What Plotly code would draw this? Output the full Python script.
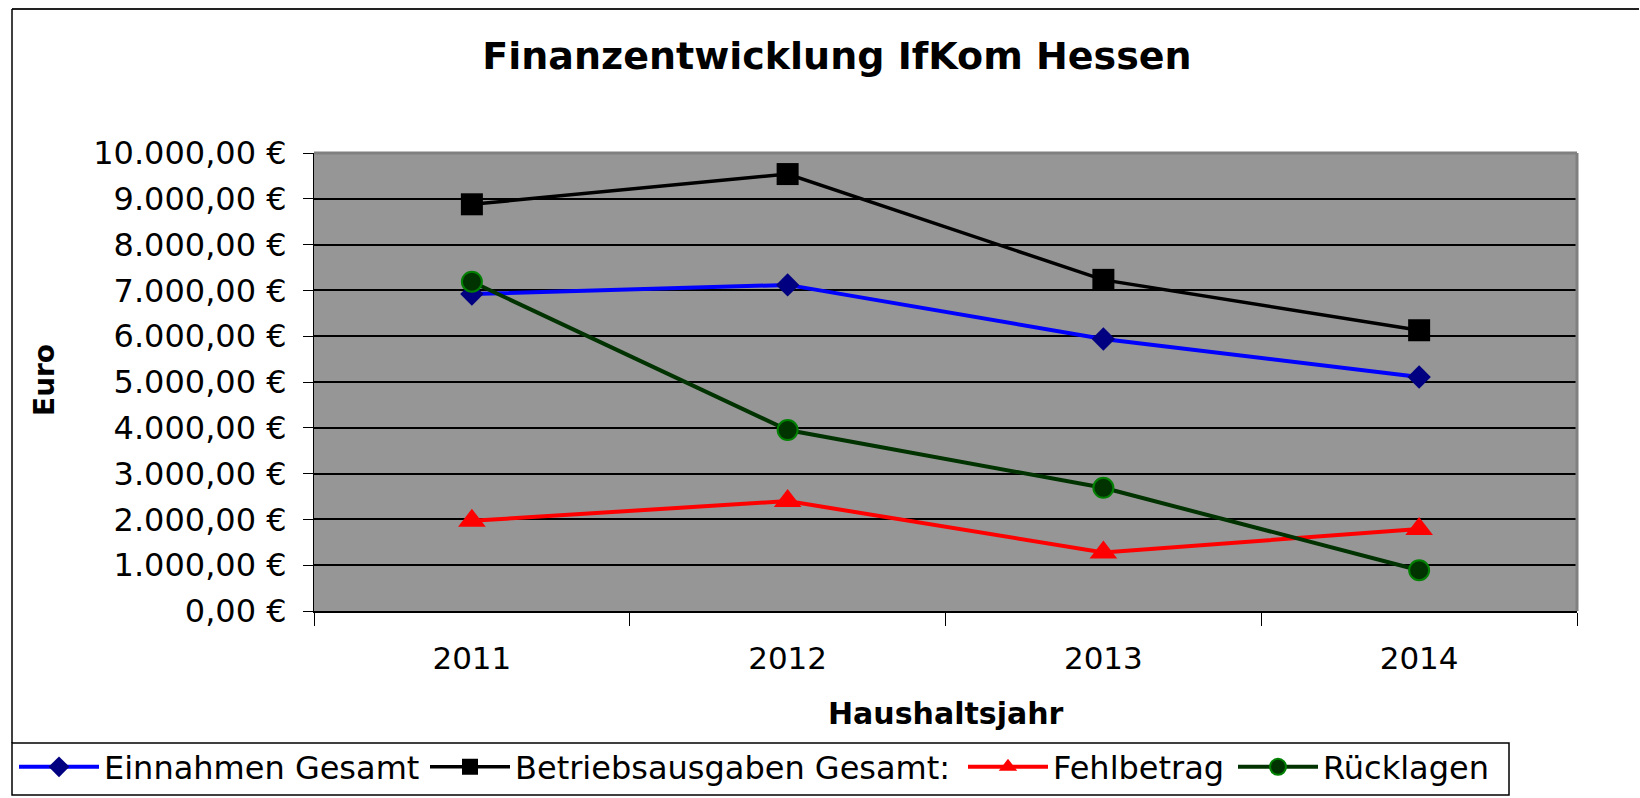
import plotly.graph_objects as go

# ---- data ----
years = ["2011", "2012", "2013", "2014"]
einnahmen = [6920, 7120, 5940, 5110]
betriebsausgaben = [8880, 9540, 7230, 6130]
fehlbetrag = [1970, 2400, 1280, 1790]
ruecklagen = [7190, 3950, 2690, 890]

series_names = ["Einnahmen Gesamt", "Betriebsausgaben Gesamt:", "Fehlbetrag", "Rücklagen"]

# ---- layout geometry (pixels) ----
W, H = 1640, 798
L, R, T, B = 314, 63, 153, 187
PW = W - L - R
PH = H - T - B


def px(x):
    return (x - L) / PW


def py(y):
    return (H - B - y) / PH


FONT = "DejaVu Sans"

fig = go.Figure()

fig.add_trace(go.Scatter(
    x=years, y=einnahmen, name=series_names[0], mode="lines+markers",
    line=dict(color="#0000FF", width=4),
    marker=dict(symbol="diamond", size=18, color="#000080"),
    legend="legend",
))
fig.add_trace(go.Scatter(
    x=years, y=betriebsausgaben, name=series_names[1], mode="lines+markers",
    line=dict(color="#000000", width=3.5),
    marker=dict(symbol="square", size=22, color="#000000"),
    legend="legend2",
))
fig.add_trace(go.Scatter(
    x=years, y=fehlbetrag, name=series_names[2], mode="lines+markers",
    line=dict(color="#FF0000", width=4),
    marker=dict(symbol="triangle-up", size=24, color="#FF0000"),
    legend="legend3",
))
fig.add_trace(go.Scatter(
    x=years, y=ruecklagen, name=series_names[3], mode="lines+markers",
    line=dict(color="#003300", width=4),
    marker=dict(symbol="circle", size=20, color="#003300",
                line=dict(color="#008000", width=2)),
    legend="legend4",
))

leg_common = dict(
    orientation="h", xanchor="left", yanchor="middle",
    y=py(767), bgcolor="rgba(0,0,0,0)", borderwidth=0, itemwidth=80,
    font=dict(family=FONT, size=32, color="black"),
)
leg_x = [14, 425, 963, 1233]

shapes = [
    # outer chart border: top and left edges (the rest lies outside the canvas)
    dict(type="line", xref="paper", yref="paper",
         x0=px(12), x1=px(W - 1), y0=py(9), y1=py(9),
         line=dict(color="#222222", width=2)),
    dict(type="line", xref="paper", yref="paper",
         x0=px(12), x1=px(12), y0=py(9), y1=py(743),
         line=dict(color="black", width=1.5)),
    # legend box
    dict(type="rect", xref="paper", yref="paper",
         x0=px(12), x1=px(1509), y0=py(795), y1=py(743),
         line=dict(color="black", width=1.5), fillcolor="white", layer="below"),
    # plot area border (top and right, grey)
    dict(type="line", xref="paper", yref="paper",
         x0=0, x1=1, y0=1, y1=1, line=dict(color="#808080", width=3)),
    dict(type="line", xref="paper", yref="paper",
         x0=1, x1=1, y0=0, y1=1, line=dict(color="#808080", width=3)),
]

annotations = [
    dict(text="<b>Euro</b>", xref="paper", yref="paper", x=px(44), y=py(380),
         showarrow=False, textangle=-90, xanchor="center", yanchor="middle",
         font=dict(family=FONT, size=28, color="black")),
    dict(text="<b>Haushaltsjahr</b>", xref="paper", yref="paper", x=px(946), y=py(713),
         showarrow=False, xanchor="center", yanchor="middle",
         font=dict(family=FONT, size=30, color="black")),
]

fig.update_layout(
    width=W, height=H,
    margin=dict(l=L, r=R, t=T, b=B, autoexpand=False),
    paper_bgcolor="white",
    plot_bgcolor="#969696",
    separators=",.",
    title=dict(text="<b>Finanzentwicklung IfKom Hessen</b>",
               x=837 / W, xanchor="center", xref="container",
               y=1 - 56 / H, yanchor="middle",
               font=dict(family=FONT, size=38, color="black")),
    font=dict(family=FONT, color="black"),
    showlegend=True,
    legend=dict(x=px(leg_x[0]), **leg_common),
    legend2=dict(x=px(leg_x[1]), **leg_common),
    legend3=dict(x=px(leg_x[2]), **leg_common),
    legend4=dict(x=px(leg_x[3]), **leg_common),
    shapes=shapes,
    annotations=annotations,
    hovermode=False,
)

fig.update_xaxes(
    type="category", range=[-0.5, 3.5], tickson="boundaries",
    ticks="outside", ticklen=13, tickwidth=1, tickcolor="black",
    showline=True, linecolor="black", linewidth=2,
    showgrid=False, zeroline=False,
    tickfont=dict(family=FONT, size=31, color="black"),
    ticklabelstandoff=19,
)
fig.update_yaxes(
    range=[0, 10000], dtick=1000, tick0=0,
    tickformat=",.2f", ticksuffix=" €",
    ticks="outside", ticklen=10, tickwidth=1, tickcolor="black",
    showline=True, linecolor="black", linewidth=1,
    showgrid=True, gridcolor="black", gridwidth=1.6,
    zeroline=False,
    tickfont=dict(family=FONT, size=32, color="black"),
    ticklabelstandoff=10,
)

fig.write_html(
    "out.html",
    config={"displayModeBar": False},
    post_script=(
        "document.documentElement.style.margin='0';"
        "document.documentElement.style.overflow='hidden';"
        "document.body.style.margin='0';"
        "document.body.style.overflow='hidden';"
    ),
)
